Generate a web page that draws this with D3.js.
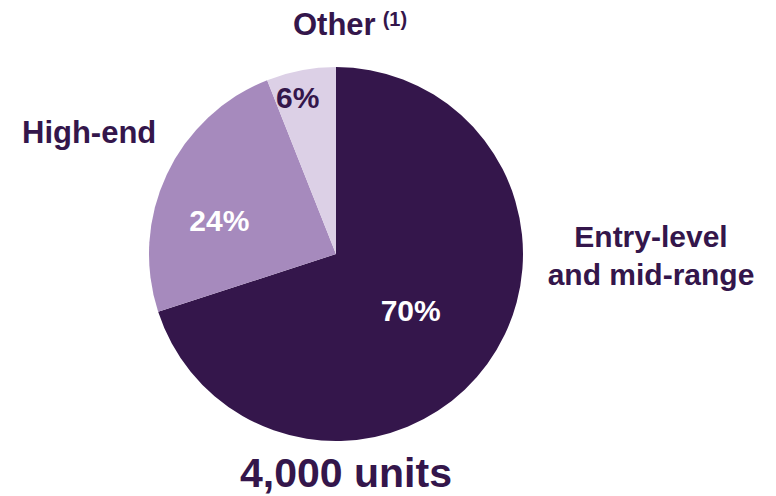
<!DOCTYPE html>
<html>
<head>
<meta charset="utf-8">
<script src="https://cdn.jsdelivr.net/npm/d3@7"></script>
<style>
  body { margin: 0; background: #fff; }
  text { font-family: "Liberation Sans", Arial, sans-serif; font-weight: bold; }
</style>
</head>
<body>
<div id="chart"></div>
<script>
// segment data, clockwise from 12 o'clock
var segments = ["Entry-level and mid-range", "High-end", "Other"];
var shares = [70, 24, 6];
var sliceColors = ["#34164b", "#a68abd", "#dcd0e6"];
var pctColors = ["#ffffff", "#ffffff", "#34164b"];
var totalLabel = "4,000 units";

var width = 776, height = 496;
var cx = 336, cy = 254, radius = 187;
var dark = "#34164b";

var svg = d3.select("#chart")
    .append("svg")
        .attr("width", width)
        .attr("height", height);

var g = svg.append("g")
    .attr("transform", "translate(" + cx + "," + cy + ")");

var pie = d3.pie().sort(null).value(function(d) { return d; });
var arc = d3.arc().innerRadius(0).outerRadius(radius);

var arcs = pie(shares);

g.selectAll("path")
    .data(arcs)
    .enter()
    .append("path")
    .attr("d", arc)
    .style("fill", function(d, i) { return sliceColors[i]; });

// percentage labels inside slices: radius fraction and angle nudge (deg) per slice
var labelRadius = [0.50, 0.65, 0.86];
var labelNudge = [1, -9, -3];
g.selectAll("text.pct")
    .data(arcs)
    .enter()
    .append("text")
    .attr("class", "pct")
    .attr("transform", function(d, i) {
        var a = (d.startAngle + d.endAngle) / 2 + labelNudge[i] * Math.PI / 180;
        var p = d3.pointRadial(a, radius * labelRadius[i]);
        return "translate(" + p[0] + "," + p[1] + ")";
    })
    .attr("dy", "0.35em")
    .style("text-anchor", "middle")
    .style("font-size", "30px")
    .style("fill", function(d, i) { return pctColors[i]; })
    .text(function(d, i) { return shares[i] + "%"; });

// category labels
var entry = svg.append("text")
    .style("text-anchor", "middle")
    .style("font-size", "30px")
    .style("fill", dark);
entry.append("tspan").attr("x", 651).attr("y", 247).text("Entry-level");
entry.append("tspan").attr("x", 651).attr("y", 285).text("and mid-range");

svg.append("text")
    .attr("x", 22)
    .attr("y", 143)
    .style("font-size", "31px")
    .style("fill", dark)
    .text(segments[1]);

var other = svg.append("text")
    .attr("x", 293)
    .attr("y", 35)
    .style("font-size", "31px")
    .style("fill", dark);
other.append("tspan").text(segments[2]);
other.append("tspan")
    .attr("dx", 7)
    .attr("dy", -9)
    .style("font-size", "20px")
    .text("(1)");

// total
svg.append("text")
    .attr("x", 346)
    .attr("y", 487)
    .style("text-anchor", "middle")
    .style("font-size", "41px")
    .style("fill", dark)
    .text(totalLabel);
</script>
</body>
</html>
